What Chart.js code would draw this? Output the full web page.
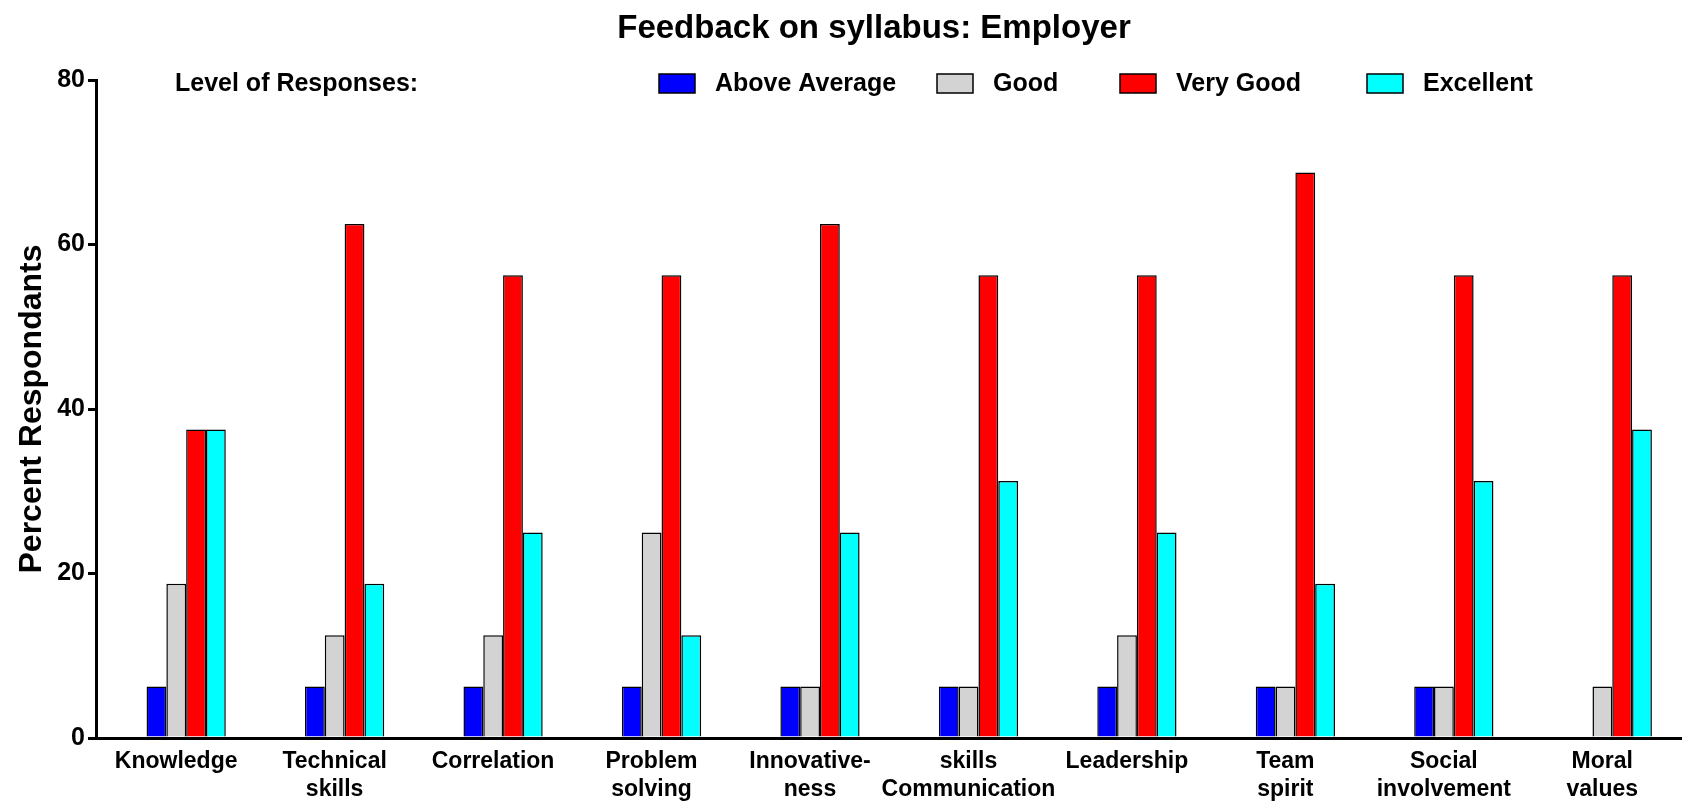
<!DOCTYPE html>
<html>
<head>
<meta charset="utf-8">
<title>Feedback on syllabus: Employer</title>
<script src="https://cdn.jsdelivr.net/npm/chart.js@4.4.1/dist/chart.umd.min.js"></script>
<style>
  html, body { margin: 0; padding: 0; background: #fff; overflow: hidden; }
  canvas { display: block; }
</style>
</head>
<body>
<canvas id="feedbackChart" width="1682" height="801"></canvas>
<script>
// categories as they are printed under the axis (two-line ones split)
let categories = [
  ["Knowledge"], ["Technical", "skills"], ["Correlation"], ["Problem", "solving"],
  ["Innovative-", "ness"], ["skills", "Communication"], ["Leadership"],
  ["Team", "spirit"], ["Social", "involvement"], ["Moral", "values"]
];
let seriesNames = ["Above Average", "Good", "Very Good", "Excellent"];
let seriesColours = ["#0000ff", "#d3d3d3", "#ff0000", "#00ffff"];

// percent respondents per level
let aboveAverage = [6.25, 6.25, 6.25, 6.25, 6.25, 6.25, 6.25, 6.25, 6.25, 0];
let good = [18.75, 12.5, 12.5, 25, 6.25, 6.25, 12.5, 6.25, 6.25, 6.25];
let veryGood = [37.5, 62.5, 56.25, 56.25, 62.5, 56.25, 56.25, 68.75, 56.25, 56.25];
let excellent = [37.5, 18.75, 25, 12.5, 25, 31.25, 25, 18.75, 31.25, 37.5];

let yTicks = [0, 20, 40, 60, 80];

let fontFamily = "'Liberation Sans', Arial, Helvetica, sans-serif";
Chart.defaults.font.family = fontFamily;
Chart.defaults.color = '#000';

function toPoints(values){
  return values.map(function(v, i){ return {x: i, y: v}; });
}

let seriesValues = [aboveAverage, good, veryGood, excellent];
let datasets = [];
for(var s=0; s<seriesNames.length; s++){
  datasets.push({
    label: seriesNames[s],
    data: toPoints(seriesValues[s]),
    backgroundColor: seriesColours[s],
    borderColor: '#000',
    borderWidth: 1.5,
    borderSkipped: 'start',
    categoryPercentage: 0.5,
    barPercentage: 1.0
  });
}

// title, "Level of Responses:" and the legend row sit inside the plot top
const headerPlugin = {
  id: 'header',
  afterDraw: function(chart){
    let ctx = chart.ctx;
    ctx.save();
    ctx.fillStyle = '#000';
    ctx.textBaseline = 'middle';

    ctx.font = 'bold 33px ' + fontFamily;
    ctx.textAlign = 'center';
    ctx.fillText('Feedback on syllabus: Employer', 874, 29);

    ctx.font = 'bold 25px ' + fontFamily;
    ctx.textAlign = 'left';
    ctx.fillText('Level of Responses:', 175, 84);

    let boxX = [659, 937, 1120, 1367];
    chart.data.datasets.forEach(function(ds, i){
      ctx.fillStyle = ds.backgroundColor;
      ctx.fillRect(boxX[i], 74, 36, 19);
      ctx.lineWidth = 1.5;
      ctx.strokeStyle = '#000';
      ctx.strokeRect(boxX[i], 74, 36, 19);
      ctx.fillStyle = '#000';
      ctx.fillText(ds.label, boxX[i] + 56, 84);
    });
    ctx.restore();
  }
};

let chart = new Chart(document.getElementById('feedbackChart'), {
  type: 'bar',
  data: { datasets: datasets },
  plugins: [headerPlugin],
  options: {
    responsive: false,
    animation: false,
    layout: { padding: { top: 80, left: 0, right: 0, bottom: 0 } },
    plugins: {
      legend: { display: false },
      title: { display: false },
      tooltip: { enabled: false }
    },
    scales: {
      x: {
        type: 'linear',
        offset: false,
        min: -0.569,
        max: 9.44,
        afterBuildTicks: function(scale){
          scale.ticks = categories.map(function(c, i){ return {value: i}; });
        },
        afterFit: function(scale){ scale.height = 63; },
        grid: { display: false, drawTicks: false },
        border: { display: true, color: '#000', width: 3 },
        ticks: {
          autoSkip: false,
          maxRotation: 0,
          padding: 10,
          labelOffset: -10,
          font: { size: 23, weight: 'bold' },
          callback: function(value){ return categories[value] || ''; }
        }
      },
      y: {
        min: 0,
        max: 80,
        afterBuildTicks: function(scale){
          scale.ticks = yTicks.map(function(v){ return {value: v}; });
        },
        afterFit: function(scale){ scale.width = 96; },
        grid: {
          display: true,
          drawOnChartArea: false,
          drawTicks: true,
          tickLength: 8,
          color: '#000',
          lineWidth: 3
        },
        border: { display: true, color: '#000', width: 3 },
        ticks: {
          padding: 3,
          font: { size: 25, weight: 'bold' }
        },
        title: {
          display: true,
          text: 'Percent Respondants',
          padding: { top: 13, bottom: 0 },
          font: { size: 32, weight: 'bold' }
        }
      }
    }
  }
});
</script>
</body>
</html>
